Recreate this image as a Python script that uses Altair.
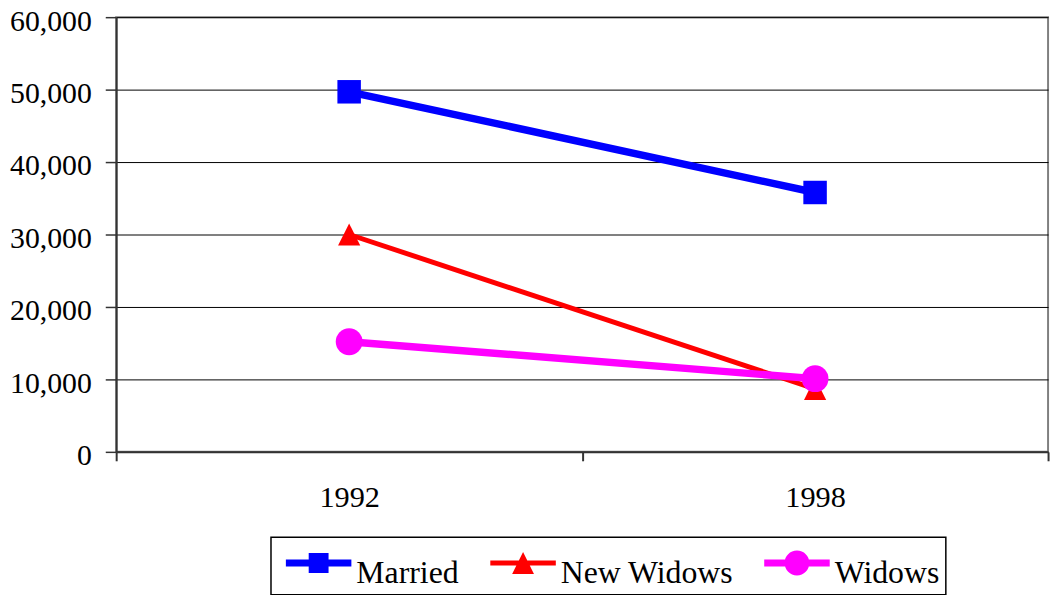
import altair as alt
import pandas as pd

years = ["1992", "1998"]
series = ["Married", "New Widows", "Widows"]
married = [49700, 35800]
new_widows = [30000, 8700]
widows = [15200, 10100]
y_ticks = [0, 10000, 20000, 30000, 40000, 50000, 60000]

colors = ["#0000FF", "#FF0000", "#FF00FF"]
marker_shapes = ["square", "M0,-1L1,1L-1,1Z", "circle"]
marker_sizes = [560, 500, 729]
line_widths = [7.5, 5, 7.5]

# ---- legend symbol paths (line + marker), built in pixels then normalised ----
SYM = 48            # legend symbol box (px) -> symbolSize = SYM**2
U = SYM / 2.0       # px per path unit
DX, DY = 18, -10    # shift of the drawn symbol inside its box (px)


def _p(v):
    return f"{v / U:.4f}"


def bar_path(th):
    x0, x1 = DX - 33, DX + 33
    y0, y1 = DY - th / 2, DY + th / 2
    return f"M{_p(x0)},{_p(y0)}H{_p(x1)}V{_p(y1)}H{_p(x0)}Z"


def square_path(h):
    return (f"M{_p(DX - h)},{_p(DY - h)}H{_p(DX + h)}V{_p(DY + h)}H{_p(DX - h)}Z")


def tri_path(h):
    return (f"M{_p(DX)},{_p(DY - h)}L{_p(DX + h)},{_p(DY + h)}L{_p(DX - h)},{_p(DY + h)}Z")


def circle_path(r):
    return (f"M{_p(DX - r)},{_p(DY)}A{_p(r)},{_p(r)} 0 1,1 {_p(DX + r)},{_p(DY)}"
            f"A{_p(r)},{_p(r)} 0 1,1 {_p(DX - r)},{_p(DY)}Z")


legend_paths = [
    bar_path(7) + " " + square_path(10),
    bar_path(5) + " " + tri_path(11),
    bar_path(7) + " " + circle_path(12.5),
]

rows = []
for s, vals in zip(series, [married, new_widows, widows]):
    for yr, v in zip(years, vals):
        rows.append({"year": yr, "series": s, "value": v})
df = pd.DataFrame(rows)

FONT = "Liberation Serif"

x_enc = alt.X(
    "year:N",
    scale=alt.Scale(type="band", domain=years, paddingInner=0, paddingOuter=0),
    axis=alt.Axis(
        title=None, tickBand="extent", grid=False, labelAngle=0,
        labelFont=FONT, labelFontSize=30.5, labelColor="black",
        tickSize=9, tickColor="#333", tickWidth=2,
        domainColor="#333", domainWidth=2, labelPadding=22,
    ),
)
y_enc = alt.Y(
    "value:Q",
    scale=alt.Scale(domain=[0, 60000], nice=False),
    axis=alt.Axis(
        title=None, values=y_ticks, format=",.0f",
        labelFont=FONT, labelFontSize=30, labelColor="black",
        tickSize=11, tickColor="#333", tickWidth=1.5,
        domainColor="#333", domainWidth=2, labelPadding=14, labelOffset=4,
        gridColor="black", gridWidth=1,
    ),
)
color_scale = alt.Scale(domain=series, range=colors)
leg = alt.Legend(title="\u00a0")
color_enc = alt.Color("series:N", scale=color_scale, legend=leg)

base = alt.Chart(df)

layers = []
for s, shp, sz, lw in zip(series, marker_shapes, marker_sizes, line_widths):
    sub = base.transform_filter(alt.datum.series == s)
    layers.append(sub.mark_line(strokeWidth=lw).encode(x=x_enc, y=y_enc, color=color_enc))
    layers.append(
        sub.mark_point(filled=True, shape=shp, size=sz, opacity=1, strokeWidth=0)
        .encode(x=x_enc, y=y_enc, color=color_enc)
    )

legend_layer = base.mark_point(filled=True, size=0, opacity=1).encode(
    x=x_enc, y=y_enc,
    color=color_enc,
    shape=alt.Shape(
        "series:N",
        scale=alt.Scale(domain=series, range=legend_paths),
        legend=leg,
    ),
)

chart = alt.layer(legend_layer, *layers).properties(
    width=939, height=438,
    autosize=alt.AutoSizeParams(type="none"),
    padding={"left": 109, "top": 7, "right": 7, "bottom": 142},
).configure_view(
    stroke="#808080", strokeWidth=2
).configure_legend(
    orient="none", legendX=156, legendY=524,
    direction="horizontal", columns=3,
    strokeColor="#000", strokeWidth=1.5, fillColor="white",
    padding=6, titleFontSize=1, titlePadding=5, titleFont=FONT,
    labelFont=FONT, labelFontSize=32, labelColor="black",
    labelOffset=32, labelLimit=400, symbolSize=SYM * SYM, symbolStrokeWidth=0,
    symbolOpacity=1, columnPadding=22,
)

chart.save("out.html", embed_options={"renderer": "svg", "actions": False})
